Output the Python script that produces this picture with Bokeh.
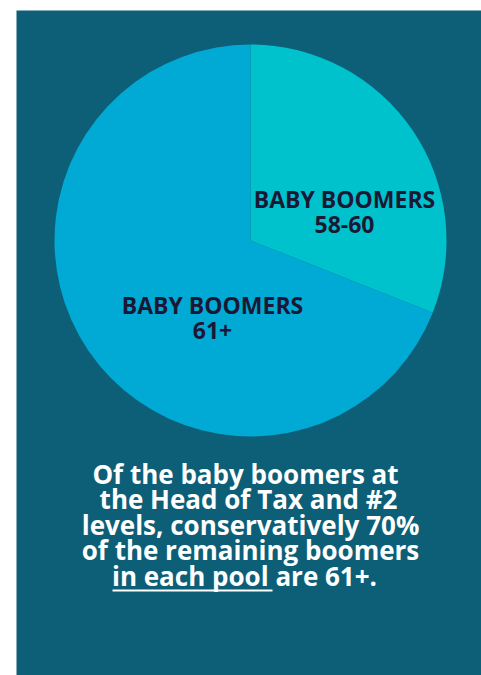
import math
from bokeh.plotting import figure
from bokeh.models import Range1d
from bokeh.core.properties import value
from bokeh.embed import file_html
from bokeh.resources import INLINE

# ---- data ----
categories = ["BABY BOOMERS 58-60", "BABY BOOMERS 61+"]
shares = [31, 69]
slice_colors = ["#00c2cc", "#00aad4"]
label_line1 = ["BABY BOOMERS", "BABY BOOMERS"]
label_line2 = ["58-60", "61+"]
caption_lines = [
    "Of the baby boomers at",
    "the Head of Tax and #2",
    "levels, conservatively 70%",
    "of the remaining boomers",
    "in each pool are 61+.",
]

W, H = 481, 675
FW, FH = W - 16, H - 10
p = figure(width=W, height=H, output_backend="svg", toolbar_location=None,
           x_range=Range1d(0, FW), y_range=Range1d(0, FH))
p.min_border = 0
p.min_border_left = 16
p.min_border_top = 10
p.axis.visible = False
p.grid.visible = False
p.outline_line_color = None
p.background_fill_color = "#0d5f78"
p.border_fill_color = "white"

cx, cy, r = 234, 435, 196
# wedges: first slice starts at 12 o'clock and goes clockwise
start = math.pi / 2
total = sum(shares)
starts, ends = [], []
for s in shares:
    ang = 2 * math.pi * s / total
    ends.append(start)
    starts.append(start - ang)
    start -= ang
p.wedge(x=[cx] * len(shares), y=[cy] * len(shares), radius=r,
        start_angle=starts, end_angle=ends, fill_color=slice_colors,
        line_color=None)

font = value("Open Sans")
dy = 9
lx = [328, 196]
ly1 = [468 + dy, 362 + dy]
ly2 = [442 + dy, 336 + dy]
p.text(x=lx, y=ly1, text=label_line1, text_font=font, text_font_style="bold",
       text_font_size="23px", text_color="#1b1836", text_align="center",
       text_baseline="alphabetic")
p.text(x=lx, y=ly2, text=label_line2, text_font=font, text_font_style="bold",
       text_font_size="23px", text_color="#1b1836", text_align="center",
       text_baseline="alphabetic")

cap_x = [229, 232, 234, 234, 228]
cap_y = [v + dy for v in [193, 167.5, 142, 116.5, 91]]
p.text(x=cap_x, y=cap_y, text=caption_lines, text_font=font,
       text_font_style="bold", text_font_size="26px", text_color="white",
       text_align="center", text_baseline="alphabetic")
# underline for "in each pool"
p.segment(x0=[96], y0=[85], x1=[256], y1=[85], line_color="white", line_width=2)

open("out.html", "w").write(file_html(p, INLINE))
